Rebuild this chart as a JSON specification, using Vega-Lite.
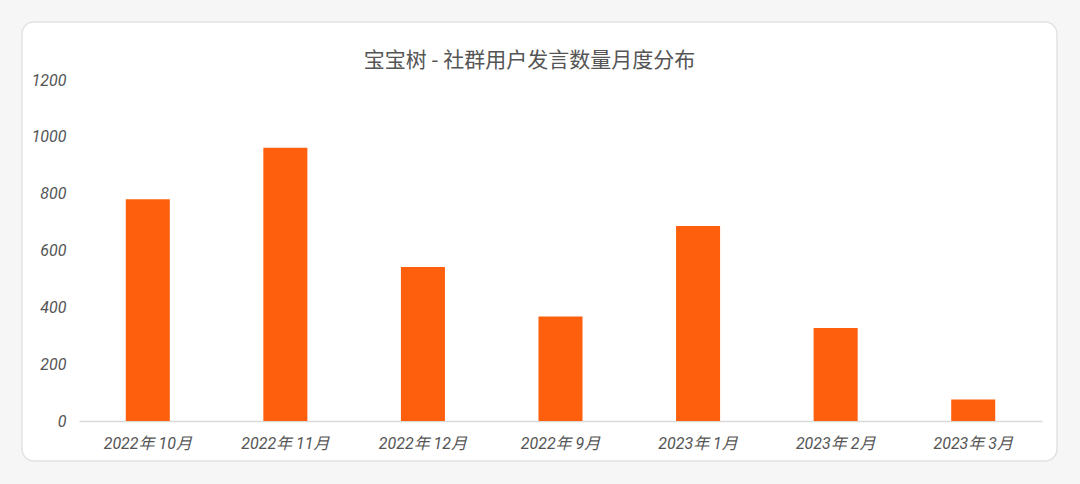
{
  "$schema": "https://vega.github.io/schema/vega-lite/v6.json",
  "autosize": "none",
  "width": 1035,
  "height": 439,
  "padding": {"left": 22, "top": 22, "right": 23, "bottom": 23},
  "background": "#f6f6f6",
  "config": {
    "view": {"fill": "white", "stroke": "#e2e2e2", "strokeWidth": 1.5, "cornerRadius": 12},
    "axis": {
      "labelFont": "Roboto, Noto Sans CJK SC",
      "labelFontStyle": "italic",
      "labelColor": "#555555",
      "labelFontSize": 16,
      "grid": false,
      "ticks": false,
      "title": null
    }
  },
  "title": {
    "text": "宝宝树 - 社群用户发言数量月度分布",
    "font": "Noto Sans CJK SC",
    "fontSize": 21,
    "fontWeight": "normal",
    "color": "#555555",
    "anchor": "middle",
    "baseline": "middle",
    "offset": -40,
    "dy": 20,
    "dx": -10
  },
  "data": {
    "values": [
      {"month": "2022年 10月", "count": 780},
      {"month": "2022年 11月", "count": 962},
      {"month": "2022年 12月", "count": 542},
      {"month": "2022年 9月", "count": 368},
      {"month": "2023年 1月", "count": 686},
      {"month": "2023年 2月", "count": 327},
      {"month": "2023年 3月", "count": 76}
    ]
  },
  "mark": {"type": "bar", "color": "#fe5f0c"},
  "encoding": {
    "x": {
      "field": "month",
      "type": "nominal",
      "sort": null,
      "scale": {"range": [57, 1020], "paddingInner": 0.68, "paddingOuter": 0.34},
      "axis": {
        "labelAngle": 0,
        "offset": -40,
        "domainColor": "#d9d9d9",
        "domainWidth": 1.5,
        "labelPadding": 14
      }
    },
    "y": {
      "field": "count",
      "type": "quantitative",
      "scale": {"domain": [0, 1200], "range": [399, 58]},
      "axis": {
        "values": [0, 200, 400, 600, 800, 1000, 1200],
        "format": "d",
        "domain": false,
        "offset": -57,
        "labelPadding": 13
      }
    }
  }
}
